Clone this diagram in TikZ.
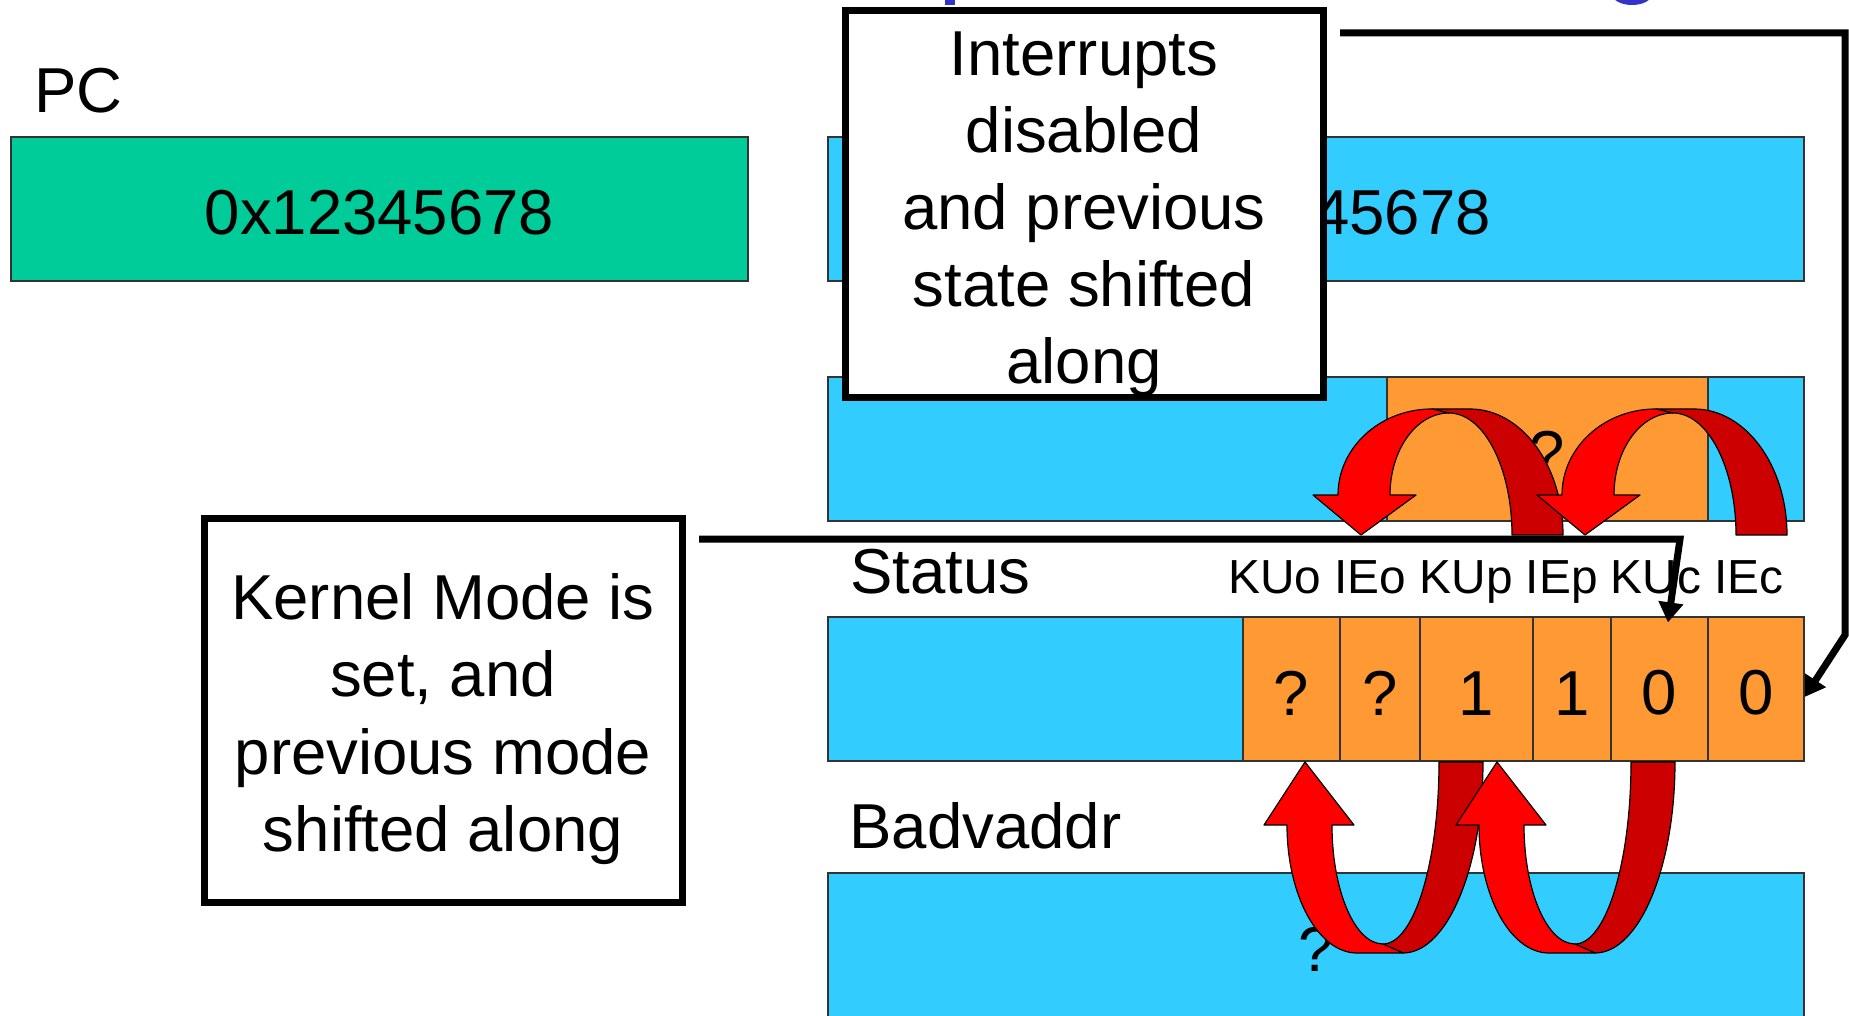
\documentclass[tikz,border=0pt]{standalone}
\usepackage{fontspec}
\setmainfont{Liberation Sans}
\usepackage{xcolor}
\usepackage{tikz}
\usetikzlibrary{arrows.meta}

\definecolor{pcgreen}{HTML}{00CC99}
\definecolor{regblue}{HTML}{33CCFF}
\definecolor{bitorange}{HTML}{FF9933}
\definecolor{arrowred}{HTML}{FF0000}
\definecolor{arrowdark}{HTML}{CC0000}
\definecolor{titleblue}{HTML}{3333CC}

\newcommand{\regfont}{\fontsize{31.75pt}{38.6pt}\selectfont}
\newcommand{\bitfont}{\fontsize{23.9pt}{28pt}\selectfont}
\newcommand{\notestrut}{\rule{0pt}{32pt}}

\tikzset{
  reg/.style={draw=black!80,line width=0.6pt,minimum width=488pt,minimum height=72pt,inner sep=0pt,font=\regfont,
    execute at begin node={\rule{0pt}{26pt}}},
  bitcell/.style={draw=black!80,line width=0.6pt,fill=bitorange,minimum height=72pt,inner sep=0pt,font=\regfont,
    execute at begin node={\rule{0pt}{26pt}}},
  note/.style={draw,fill=white,line width=3.5pt,minimum width=239pt,align=center,inner sep=0pt,font=\regfont},
  lbl/.style={anchor=base west,inner sep=0pt,font=\regfont},
  conn/.style={line width=3.5pt,-{Triangle[width=12pt,length=10pt]}},
  ribbonfront/.style={fill=arrowred,draw=black,line width=0.6pt,line join=round},
  ribbonback/.style={fill=arrowdark,draw=black,line width=0.6pt,line join=round}
}

\begin{document}
\begin{tikzpicture}[x=0.5pt,y=-0.5pt]
    \useasboundingbox (0,0) rectangle (1849,1016);
    \fill[titleblue] (945,-6) rectangle (955,5);
    \fill[titleblue] (1632,-6) ellipse[x radius=20,y radius=11];

    \node[reg,fill=pcgreen,minimum width=368.5pt] (pc) at (379.5,209) {0x12345678};
    \node[reg,fill=regblue] (epc) at (1316,209) {0x12345678};
    \node[reg,fill=regblue] (cause) at (1316,449) {};
    \node[bitcell,minimum width=160.5pt] (exc) at (1547.5,449) {?};
    \node[reg,fill=regblue] (status) at (1316,689) {};
    \node[bitcell,minimum width=48.5pt] (kuo) at (1291.5,689) {?};
    \node[bitcell,minimum width=40pt] (ieo) at (1380,689) {?};
    \node[bitcell,minimum width=56.5pt] (kup) at (1476.5,689) {1};
    \node[bitcell,minimum width=39pt] (iep) at (1572,689) {1};
    \node[bitcell,minimum width=48.5pt] (kuc) at (1659.5,689) {0};
    \node[bitcell,minimum width=48pt] (iec) at (1756,689) {0};
    \node[reg,fill=regblue] (badv) at (1316,945) {?};

    \node[lbl] (pclbl) at (34,113) {PC};
    \node[lbl] (statuslbl) at (850,593) {Status};
    \node[lbl] (badvlbl) at (849,848) {Badvaddr};
    \node[lbl,font=\bitfont] (bitlbl) at (1228,593) {KUo IEo KUp IEp KUc IEc};

    \foreach \dx in {0,224} {
        \draw[ribbonback] (1432+\dx,409) -- (1470+\dx,409) arc[start angle=270,end angle=360,x radius=93,y radius=126]
            -- (1512+\dx,535) arc[start angle=0,end angle=-90,x radius=63,y radius=122] -- cycle;
        \draw[ribbonfront] (1338+\dx,495) arc[start angle=180,end angle=270,x radius=94,y radius=86]
            -- (1449+\dx,413) arc[start angle=270,end angle=180,x radius=59,y radius=82]
            -- (1416+\dx,495) -- (1361+\dx,535) -- (1313+\dx,495) -- cycle;
    }
    \foreach \dx in {0,192} {
        \draw[ribbonback] (1403+\dx,953) arc[start angle=90,end angle=0,x radius=80,y radius=191]
            -- (1439+\dx,762) arc[start angle=0,end angle=90,x radius=56,y radius=182] -- cycle;
        \draw[ribbonfront] (1287+\dx,825) arc[start angle=180,end angle=90,x radius=70,y radius=128]
            -- (1403+\dx,953) -- (1383+\dx,944) arc[start angle=90,end angle=180,x radius=51,y radius=119]
            -- (1354+\dx,825) -- (1305+\dx,762) -- (1264+\dx,825) -- cycle;
    }

    \node[note,minimum height=193.75pt] (ibox) at (1084,204) {\notestrut Interrupts\\disabled\\and previous\\state shifted\\along};
    \node[note,minimum height=192pt] (kbox) at (443,710) {\notestrut Kernel Mode is\\set, and\\previous mode\\shifted along};

    \draw[conn] ([xshift=6.75pt,yshift=-12.25pt]kbox.north east) -- (1680,539) -- ([xshift=4.25pt,yshift=-3pt]kuc.north);
    \draw[conn] ([xshift=6.75pt,yshift=-13.1pt]ibox.north east) -- (1845,33) -- (1845,635) -- ([yshift=-4pt]iec.east);
\end{tikzpicture}
\end{document}
